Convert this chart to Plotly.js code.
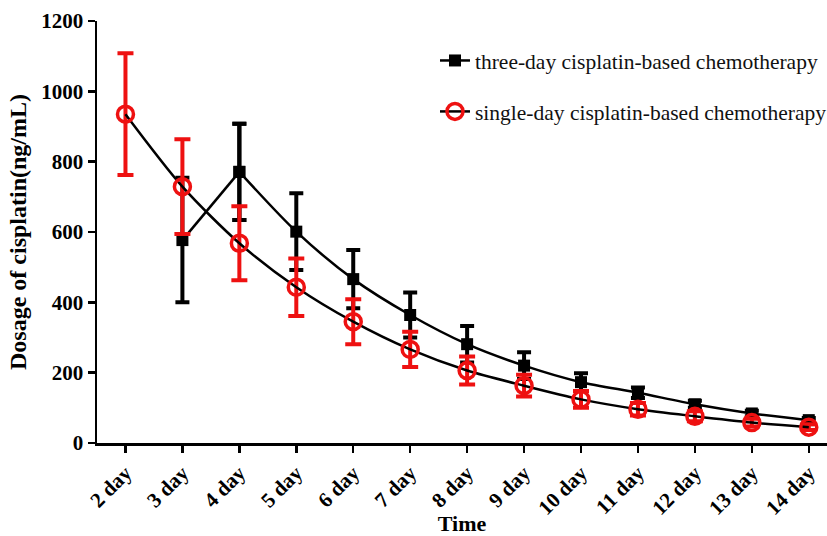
<!DOCTYPE html>
<html>
<head>
<meta charset="utf-8">
<script src="https://cdn.plot.ly/plotly-3.0.1.min.js"></script>
<style>html,body{margin:0;padding:0;background:#fff;}#chart{width:827px;height:536px;}</style>
</head>
<body>
<div id="chart"></div>
<script>
var days = ["2 day","3 day","4 day","5 day","6 day","7 day","8 day","9 day","10 day","11 day","12 day","13 day","14 day"];
var threeDayMean = [null, 577, 771, 601, 466, 364, 281, 220, 173, 143, 110, 84, 65];
var threeDaySD   = [null, 177, 137, 109, 83, 64, 52, 38, 25, 15, 10, 8, 6];
var singleDayMean = [935, 729, 568, 443, 345, 266, 206, 163, 124, 96, 76, 58, 45];
var singleDaySD   = [173, 135, 105, 82, 64, 50, 40, 31, 24, 18, 14, 11, 8];
var seriesNames = ["three-day cisplatin-based chemotherapy", "single-day cisplatin-based chemotherapy"];

var serif = "Liberation Serif, Times New Roman, serif";
var RED = "#ee1111";

var traces = [
  // rising segment of the three-day curve (3 day -> 4 day), straight
  {
    x: days.slice(1, 3), y: threeDayMean.slice(1, 3), type: "scatter", mode: "lines+markers",
    showlegend: false, hoverinfo: "skip",
    line: {color: "#000", width: 2.5},
    marker: {symbol: "square", size: 12, color: "#000"},
    error_y: {type: "data", array: threeDaySD.slice(1, 3), visible: true, color: "#000", thickness: 4, width: 7}
  },
  // decaying part of the three-day curve (4 day -> 14 day), smooth
  {
    x: days.slice(2), y: threeDayMean.slice(2), name: seriesNames[0], type: "scatter", mode: "lines+markers",
    legendgroup: "a",
    line: {color: "#000", width: 2.5, shape: "spline", smoothing: 0.8},
    marker: {symbol: "square", size: 12, color: "#000"},
    error_y: {type: "data", array: threeDaySD.slice(2), visible: true, color: "#000", thickness: 4, width: 7}
  },
  {
    x: days, y: singleDayMean, name: seriesNames[1], type: "scatter", mode: "lines+markers",
    legendgroup: "b",
    line: {color: "#000", width: 2.5, shape: "spline", smoothing: 0.8},
    marker: {symbol: "circle-open", size: 16, color: RED, line: {width: 3.5, color: RED}},
    error_y: {type: "data", array: singleDaySD, visible: true, color: RED, thickness: 4, width: 8}
  }
];

var layout = {
  width: 827, height: 536,
  margin: {l: 97, r: 0, t: 21, b: 93, autoexpand: false},
  paper_bgcolor: "#fff", plot_bgcolor: "#fff",
  font: {family: serif, color: "#000"},
  showlegend: true,
  legend: {
    x: 0.463, y: 0.955, xanchor: "left", yanchor: "top",
    font: {family: serif, size: 21.5, color: "#111"},
    traceorder: "grouped", tracegroupgap: 20,
    bgcolor: "rgba(0,0,0,0)"
  },
  xaxis: {
    type: "category",
    categoryorder: "array", categoryarray: days,
    range: [-0.5, 12.32],
    automargin: false,
    showline: true, linecolor: "#000", linewidth: 2.5,
    ticks: "outside", ticklen: 7, tickwidth: 2.5, tickcolor: "#000",
    tickangle: -45,
    tickfont: {family: serif, size: 21, color: "#000", weight: "bold"},
    showgrid: false, zeroline: false,
    title: {text: "<b>Time</b>", font: {family: serif, size: 22, color: "#000"}, standoff: 2}
  },
  yaxis: {
    range: [0, 1200],
    automargin: false,
    tickvals: [0, 200, 400, 600, 800, 1000, 1200],
    showline: true, linecolor: "#000", linewidth: 2.5,
    ticks: "outside", ticklen: 7, tickwidth: 2.5, tickcolor: "#000",
    tickfont: {family: serif, size: 21, color: "#000", weight: "bold"},
    showgrid: false, zeroline: false,
    title: {text: "<b>Dosage of cisplatin(ng/mL)</b>", font: {family: serif, size: 24, color: "#000"}, standoff: 8}
  }
};

Plotly.newPlot("chart", traces, layout, {displayModeBar: false, staticPlot: true});
</script>
</body>
</html>
